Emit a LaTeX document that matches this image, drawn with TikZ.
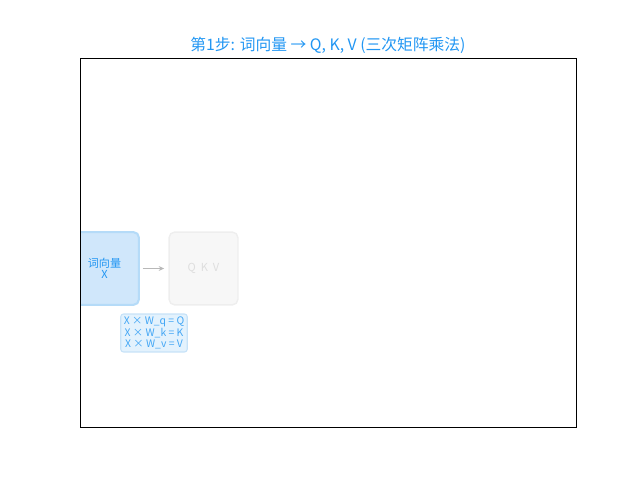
\documentclass[tikz,border=0pt]{standalone}
\usepackage{fontspec}
\setmainfont{Noto Sans CJK SC}
\newfontfamily\cjk{Noto Sans CJK SC}
\usetikzlibrary{positioning,arrows.meta}
\definecolor{titleblue}{HTML}{2196F3}
\definecolor{xfill}{HTML}{D0E7FB}
\definecolor{xline}{HTML}{B5DBF8}
\definecolor{qkvfill}{HTML}{F7F7F7}
\definecolor{qkvline}{HTML}{EEEEEE}
\definecolor{eqfill}{HTML}{E3F2FD}
\definecolor{eqline}{HTML}{C6E2F8}
\begin{document}
\begin{tikzpicture}[x=0.0254cm,y=-0.0254cm]
        \tikzstyle{stepbox}=[rounded corners=4pt, minimum width=1.75cm, minimum height=1.85cm, inner sep=0pt, align=center, font=\fontsize{8}{8}\selectfont]
        \tikzstyle{eqbox}=[draw=eqline, fill=eqfill, rounded corners=2pt, line width=0.8pt, inner sep=2.2pt, align=center, font=\fontsize{7.5}{8.2}\selectfont, text=titleblue!85]
        \useasboundingbox (0,0) rectangle (640,480);
        \node (title) at (328,45) {\fontsize{11.4}{12}\selectfont\color{titleblue}{\cjk 第}1{\cjk 步}: {\cjk 词向量} → Q, K, V ({\cjk 三次矩阵乘法})};
        \begin{scope}
        \clip (80,58) rectangle (576,427);
        \node[stepbox, draw=xline, fill=xfill, line width=1.5pt, text=titleblue] (wordvec) at (104.5,268.5) {{\cjk 词向量}\\X};
        \end{scope}
        \node[stepbox, draw=qkvline, fill=qkvfill, line width=1pt, text=black!13] (qkv) at (203.5,268.5) {Q\ \ K\ \ V};
        \draw[-{Stealth[length=4pt,width=3.5pt]}, black!28, line width=0.8pt, shorten <=2pt, shorten >=3pt] (wordvec) -- (qkv);
        \node[eqbox] (matmul) at (154,333) {X × W\_q = Q\\X × W\_k = K\\X × W\_v = V};
        \draw[line width=0.6pt] (80,58) rectangle (576,427);
\end{tikzpicture}
\end{document}
